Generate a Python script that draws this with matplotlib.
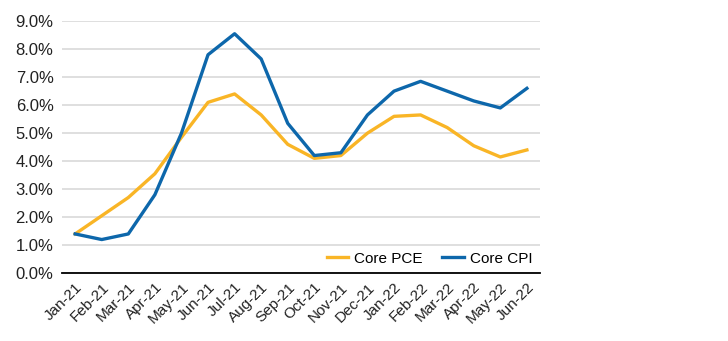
import matplotlib.pyplot as plt
from matplotlib.ticker import FuncFormatter

plt.rcParams['font.family'] = ['Liberation Sans', 'DejaVu Sans']

months = ["Jan-21", "Feb-21", "Mar-21", "Apr-21", "May-21", "Jun-21", "Jul-21",
          "Aug-21", "Sep-21", "Oct-21", "Nov-21", "Dec-21", "Jan-22", "Feb-22",
          "Mar-22", "Apr-22", "May-22", "Jun-22"]
core_pce = [1.4, 2.05, 2.7, 3.55, 4.85, 6.1, 6.4, 5.65, 4.6, 4.1, 4.2, 5.0,
            5.6, 5.65, 5.2, 4.55, 4.15, 4.4]
core_cpi = [1.4, 1.2, 1.4, 2.8, 5.0, 7.8, 8.55, 7.65, 5.35, 4.2, 4.3, 5.65,
            6.5, 6.85, 6.5, 6.15, 5.9, 6.6]

yellow = "#F9B526"
blue = "#0D67AB"

fig = plt.figure(figsize=(7.28, 3.41), dpi=100)
ax = fig.add_axes([0.085, 0.199, 0.657, 0.739])

x = range(len(months))
ax.plot(x, core_pce, color=yellow, lw=2.4, label="Core PCE", zorder=3)
ax.plot(x, core_cpi, color=blue, lw=2.4, label="Core CPI", zorder=3)

ax.set_xlim(-0.5, len(months) - 0.5)
ax.set_ylim(0, 9)
ax.set_yticks(range(0, 10))
ax.yaxis.set_major_formatter(FuncFormatter(lambda v, _: f"{v:.1f}%"))
ax.set_xticks(list(x))
ax.set_xticklabels(months, rotation=45, ha="right", rotation_mode="anchor")

ax.grid(axis="y", color="#D9D9D9", lw=1.2)
ax.set_axisbelow(True)
for side in ("top", "right", "left"):
    ax.spines[side].set_visible(False)
ax.spines["bottom"].set_color("black")
ax.spines["bottom"].set_linewidth(1.3)
ax.spines["bottom"].set_zorder(4)
ax.tick_params(length=0, labelsize=12, colors="#222222")
ax.tick_params(axis="x", labelsize=11, pad=5)
ax.tick_params(axis="y", pad=6)

ax.legend(loc="lower right", ncol=2, frameon=False, fontsize=11,
          handlelength=1.4, columnspacing=1.3, handletextpad=0.4,
          bbox_to_anchor=(1.0, 0.0), borderaxespad=0.1)

fig.savefig("out.png", dpi=100)
